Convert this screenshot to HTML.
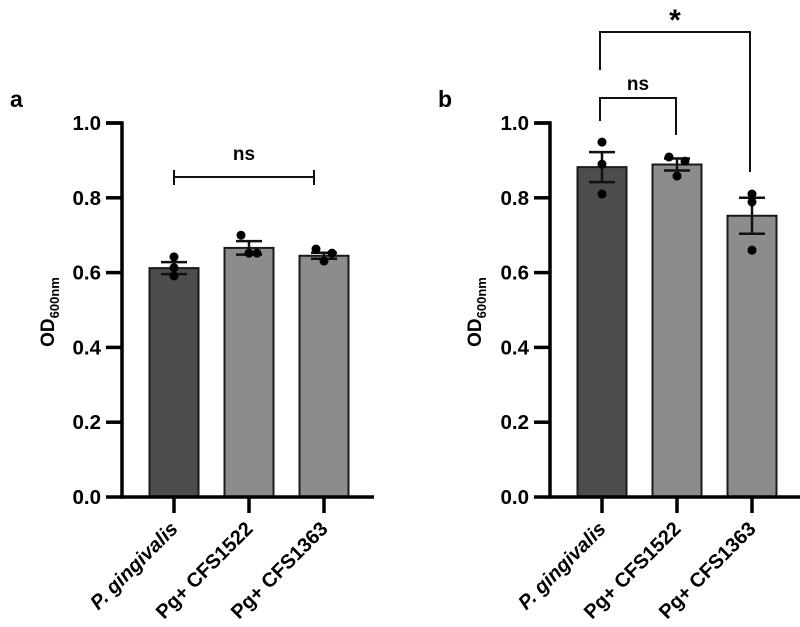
<!DOCTYPE html>
<html><head><meta charset="utf-8"><style>
body{margin:0;background:#fff;}
svg{display:block;font-family:"Liberation Sans",Arial,sans-serif;font-weight:bold;}
</style></head><body>
<svg id="chart" width="800" height="627" viewBox="0 0 800 627"></svg>
<script>
const categories = ["P. gingivalis", "Pg+ CFS1522", "Pg+ CFS1363"];
const yTicks = [0, 0.2, 0.4, 0.6, 0.8, 1.0];
const yTickLabels = ["0.0", "0.2", "0.4", "0.6", "0.8", "1.0"];
const meansA = [0.612, 0.666, 0.645];
const semA = [0.016, 0.018, 0.008];
const pointsA = [[0.642, 0.613, 0.591], [0.70, 0.652, 0.652], [0.663, 0.652, 0.631]];
const meansB = [0.882, 0.889, 0.752];
const semB = [0.040, 0.016, 0.048];
const pointsB = [[0.949, 0.890, 0.81], [0.909, 0.898, 0.858], [0.81, 0.789, 0.66]];
const barColors = ["#4d4d4d", "#8c8c8c", "#8c8c8c"];

const NS = "http://www.w3.org/2000/svg";
const svg = document.getElementById("chart");
function mk(tag, attrs, parent) {
  const e = document.createElementNS(NS, tag);
  for (const k in attrs) e.setAttribute(k, attrs[k]);
  (parent || svg).appendChild(e);
  return e;
}
const Y0 = 497, Y1 = 123;
function yScale(v) { return Y0 - (Y0 - Y1) * v; }

function panel(letter, axisX, titleX, xEnd, means, sem, pts, jitter) {
  const g = mk("g", {});
  
  
  const xS = i => axisX + 52 + i * 75;
  const L = mk("text", {x: axisX - 112, y: 107, "font-size": 23}, g);
  L.textContent = letter;
  
  
  means.forEach((m, i) => {
    const r = mk("rect", {x: xS(i) - 24.5, y: yScale(m), width: 49, height: Y0 - yScale(m), fill: barColors[i], stroke: "#1a1a1a", "stroke-width": 2}, g);
    
    
  });
  means.forEach((m, i) => {
    const x = xS(i), t = yScale(m + sem[i]), b = yScale(m - sem[i]);
    const e = mk("path", {d: `M${x},${t}V${b}M${x - 13},${t}H${x + 13}M${x - 13},${b}H${x + 13}`, stroke: "#111", "stroke-width": 2.5, fill: "none"}, g);
    
    
  });
  pts.forEach((arr, i) => {
    arr.forEach((v, j) => {
      const off = jitter[i] ? (j === 0 ? -8 : j === 1 ? 8 : 0) : 0;
      const c = mk("circle", {cx: xS(i) + off, cy: yScale(v), r: 4.5, fill: "#000"}, g);
      
      
    });
  });
  const ya = mk("path", {d: `M${axisX - 16},${Y1}H${axisX}V${Y0}`, stroke: "#000", "stroke-width": 3.5, fill: "none"}, g);
  
  
  yTicks.forEach((t, k) => {
    const y = yScale(t);
    mk("line", {x1: axisX - 16, x2: axisX, y1: y, y2: y, stroke: "#000", "stroke-width": 3.5}, g);
    const tl = mk("text", {x: axisX - 21, y: y + 7, "font-size": 20.5, "text-anchor": "end"}, g);
    tl.textContent = yTickLabels[k];
    
    
  });
  const xa = mk("line", {x1: axisX - 2, x2: xEnd, y1: Y0, y2: Y0, stroke: "#000", "stroke-width": 3.5}, g);
  
  
  categories.forEach((c, i) => {
    const x = xS(i);
    mk("line", {x1: x, x2: x, y1: Y0, y2: Y0 + 16, stroke: "#000", "stroke-width": 3.5}, g);
    const t = mk("text", {x: x + 5, y: Y0 + 33, "font-size": 20, "text-anchor": "end", transform: `rotate(-45 ${x + 5} ${Y0 + 33})`}, g);
    if (i === 0) t.setAttribute("font-style", "italic");
    t.textContent = c;
    
    
  });
  const tt = mk("text", {x: titleX, y: 312, "font-size": 19, "text-anchor": "middle", transform: `rotate(-90 ${titleX} 312)`}, g);
  tt.innerHTML = 'OD<tspan font-size="13" dy="5">600nm</tspan>';
  
  
  return xS;
}

panel("a", 122, 54, 374, meansA, semA, pointsA, [false, true, true]);
panel("b", 550, 481, 800, meansB, semB, pointsB, [false, true, false]);

function bracket(d, name) {
  const p = mk("path", {d: d, stroke: "#111", "stroke-width": 2, fill: "none"});
  
  
}
function label(x, y, s, size, name) {
  const t = mk("text", {x: x, y: y, "font-size": size, "text-anchor": "middle"});
  t.textContent = s;
  
  
}
bracket(`M174,170V185M174,177H314M314,170V185`, 'ns-bracket-a');
label(244, 160, "ns", 19, 'ns-label-a');
bracket(`M600,121V98H676V135`, 'ns-bracket-b');
label(638, 90, "ns", 19, 'ns-label-b');
bracket(`M600,70V32H750V172`, 'significance-bracket-b');
label(675, 30, "*", 30, 'significance-star-b');
</script>
</body></html>
